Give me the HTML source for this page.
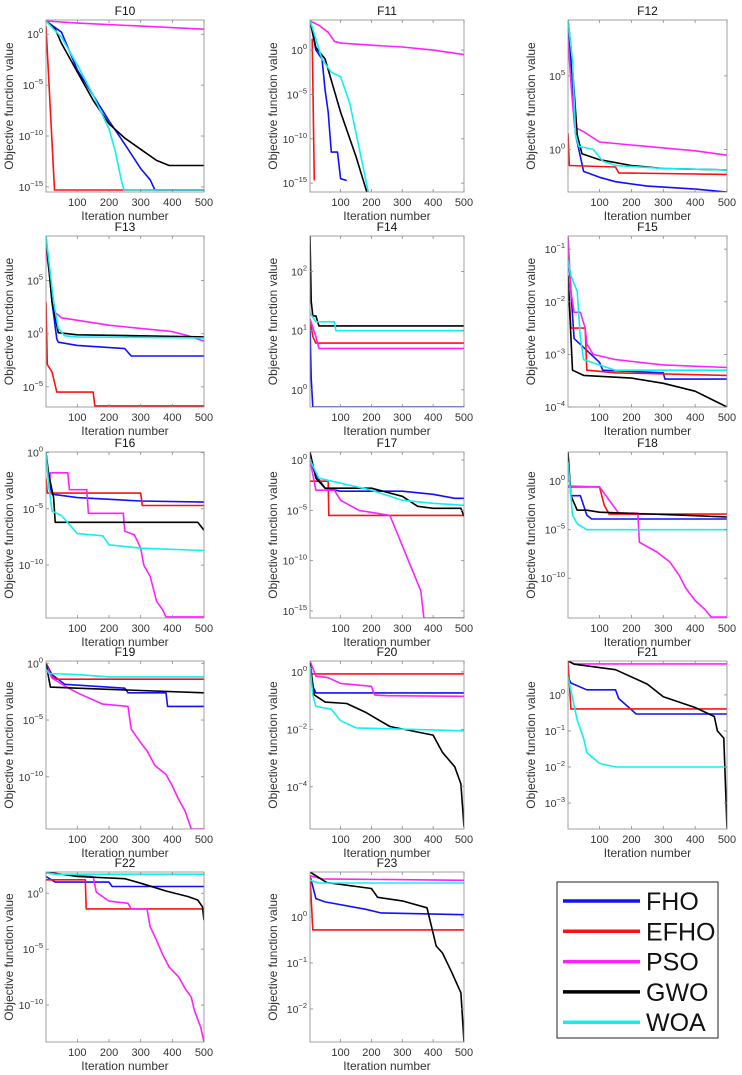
<!DOCTYPE html>
<html><head><meta charset="utf-8"><style>
html,body{margin:0;padding:0;background:#fff;}
svg{display:block;font-family:"Liberation Sans",Arial,sans-serif;}
</style></head><body>
<svg id="fig" width="742" height="1075" viewBox="0 0 742 1075"></svg>
<script>
// x values = iteration, y values = log10(objective value)
const xTicks=[100,200,300,400,500];
const F10_FHO=[[1,1.3],[50,0.2],[100,-3.5],[150,-6],[200,-8.5],[250,-10.8],[300,-13.2],[330,-14.3],[345,-15.3],[500,-15.3]];
const F10_EFHO=[[1,0.8],[28,-15.3],[500,-15.3]];
const F10_PSO=[[1,1.3],[100,1.1],[300,0.8],[500,0.5]];
const F10_GWO=[[1,1.3],[30,0.5],[50,-0.9],[100,-3.7],[150,-6.5],[200,-8.8],[250,-10.2],[300,-11.3],[350,-12.4],[390,-12.9],[500,-12.9]];
const F10_WOA=[[1,1.3],[50,-0.3],[100,-3],[150,-6],[200,-9.3],[220,-11.5],[240,-14.5],[248,-15.3],[500,-15.3]];
const F11_FHO=[[1,3.4],[20,0],[40,-1],[50,-4.5],[60,-7],[70,-11.5],[90,-11.5],[100,-14.5],[120,-14.7]];
const F11_EFHO=[[8,1.3],[15,-14.7]];
const F11_PSO=[[1,3.3],[30,2.8],[60,2],[80,1],[100,0.8],[200,0.56],[300,0.35],[400,0],[500,-0.5]];
const F11_GWO=[[1,3.4],[20,0.3],[50,-1],[100,-7],[150,-12],[185,-16]];
const F11_WOA=[[1,3.4],[40,-1],[70,-2.5],[100,-3],[130,-6],[160,-11],[190,-16]];
const F12_FHO=[[1,8.8],[20,3],[25,1],[35,0],[50,-1.5],[100,-1.9],[150,-2.2],[250,-2.5],[400,-2.7],[500,-2.9]];
const F12_EFHO=[[1,1.1],[5,-1.1],[150,-1.2],[160,-1.6],[500,-1.7]];
const F12_PSO=[[1,7.5],[12,4],[22,1.5],[50,1.2],[100,0.5],[200,0.3],[300,0.1],[400,-0.1],[500,-0.4]];
const F12_GWO=[[1,8.8],[10,7],[20,4],[30,1],[45,-0.3],[100,-0.7],[200,-1.1],[300,-1.3],[500,-1.4]];
const F12_WOA=[[1,8.8],[15,6],[25,1],[35,0.2],[80,0],[110,-0.8],[150,-1.1],[300,-1.3],[500,-1.4]];
const F13_FHO=[[1,9.2],[20,3],[35,-0.5],[40,-0.8],[100,-1.1],[250,-1.4],[270,-2.1],[500,-2.1]];
const F13_EFHO=[[1,3],[5,-2.9],[20,-3.6],[35,-5.5],[150,-5.5],[155,-6.8],[500,-6.8]];
const F13_PSO=[[1,8],[10,6],[30,2],[50,1.5],[200,0.8],[300,0.5],[400,0.2],[450,-0.2],[500,-0.7]];
const F13_GWO=[[1,9],[20,3],[40,0.1],[100,-0.1],[300,-0.2],[500,-0.3]];
const F13_WOA=[[1,9.2],[25,3],[40,0.5],[60,-0.2],[100,-0.3],[500,-0.4]];
const F14_FHO=[[1,1.1],[5,0.2],[10,-0.29],[500,-0.29]];
const F14_EFHO=[[1,1.2],[10,0.9],[20,0.79],[500,0.79]];
const F14_PSO=[[1,1.2],[20,0.9],[30,0.7],[500,0.7]];
const F14_GWO=[[1,2.6],[5,1.5],[10,1.25],[20,1.25],[30,1.08],[500,1.08]];
const F14_WOA=[[1,1.3],[20,1.15],[80,1.15],[85,1.0],[500,1.0]];
const F15_FHO=[[1,-1],[10,-1.8],[20,-2.7],[100,-3.15],[110,-3.3],[300,-3.35],[305,-3.47],[500,-3.47]];
const F15_EFHO=[[1,-1.5],[10,-2.5],[55,-2.5],[60,-3.3],[150,-3.35],[500,-3.4]];
const F15_PSO=[[1,-0.75],[10,-1.8],[20,-2.2],[40,-2.2],[55,-2.5],[60,-2.8],[80,-3],[150,-3.1],[300,-3.2],[500,-3.25]];
const F15_GWO=[[1,-1.5],[15,-3.3],[50,-3.4],[200,-3.45],[300,-3.55],[400,-3.7],[450,-3.85],[500,-4]];
const F15_WOA=[[1,-1.2],[10,-1.5],[30,-1.8],[40,-2.7],[50,-3.1],[150,-3.3],[500,-3.3]];
const F16_FHO=[[1,0],[10,-2.5],[20,-3.7],[100,-4],[300,-4.3],[500,-4.4]];
const F16_EFHO=[[1,-2.3],[5,-3.6],[300,-3.6],[305,-4.7],[500,-4.7]];
const F16_PSO=[[1,-0.3],[12,-3],[15,-1.8],[70,-1.8],[75,-3.3],[130,-3.3],[135,-5.4],[245,-5.4],[250,-7],[280,-7.3],[300,-8.5],[310,-10],[330,-11],[350,-13.2],[370,-14],[380,-14.6],[500,-14.6]];
const F16_GWO=[[1,0],[10,-2],[25,-4],[30,-6.2],[480,-6.2],[500,-6.9]];
const F16_WOA=[[1,0],[10,-3],[20,-5.2],[50,-5.6],[100,-7.2],[180,-7.4],[200,-8.2],[300,-8.5],[500,-8.7]];
const F17_FHO=[[1,0],[20,-1.5],[50,-2.8],[100,-3.1],[300,-3.1],[400,-3.4],[470,-3.8],[500,-3.8]];
const F17_EFHO=[[1,-2.1],[60,-2.1],[62,-5.5],[500,-5.5]];
const F17_PSO=[[1,0],[20,-3],[80,-3],[100,-4],[160,-5],[260,-5.5],[280,-7],[300,-8.5],[320,-10],[340,-11.5],[360,-13],[370,-15.7],[500,-15.7]];
const F17_GWO=[[1,0.8],[20,-1.8],[50,-2.8],[200,-2.8],[300,-3.6],[350,-4.6],[400,-4.8],[490,-4.8],[500,-5.6]];
const F17_WOA=[[1,0],[30,-1.8],[100,-2.3],[200,-3],[300,-4],[400,-4.3],[500,-4.5]];
const F18_FHO=[[1,2],[10,-1.5],[40,-1.5],[60,-3.5],[75,-3.9],[500,-3.9]];
const F18_EFHO=[[1,-0.6],[100,-0.6],[115,-2.5],[130,-3.4],[500,-3.4]];
const F18_PSO=[[1,-0.5],[100,-0.6],[160,-3.3],[220,-3.3],[225,-6.3],[280,-7.3],[320,-8.3],[350,-9.7],[370,-11],[400,-12.3],[430,-13.2],[450,-14],[500,-14]];
const F18_GWO=[[1,3],[10,-1.5],[30,-3],[60,-3],[100,-3.2],[350,-3.5],[500,-3.7]];
const F18_WOA=[[1,2],[15,-3.5],[30,-4.4],[60,-5],[500,-5]];
const F19_FHO=[[1,0],[20,-1],[60,-1.85],[250,-2.2],[260,-2.6],[380,-2.6],[385,-3.8],[500,-3.8]];
const F19_EFHO=[[1,0],[15,-1],[30,-1.4],[60,-1.4],[500,-1.4]];
const F19_PSO=[[1,-0.2],[20,-1.3],[60,-2],[100,-2.6],[180,-3.6],[260,-3.8],[270,-5.8],[300,-7],[320,-7.7],[345,-9],[380,-9.8],[400,-10.8],[420,-12],[440,-13],[460,-14.6],[500,-14.6]];
const F19_GWO=[[1,0],[15,-2.1],[100,-2.2],[300,-2.4],[500,-2.6]];
const F19_WOA=[[1,-0.5],[10,-0.9],[100,-1],[200,-1.2],[500,-1.2]];
const F20_FHO=[[1,0],[10,-0.5],[20,-0.73],[500,-0.73]];
const F20_EFHO=[[1,0.38],[5,-0.07],[500,-0.07]];
const F20_PSO=[[1,0.38],[20,-0.15],[60,-0.2],[100,-0.4],[200,-0.5],[210,-0.8],[250,-0.83],[500,-0.85]];
const F20_GWO=[[1,0.3],[15,-0.8],[50,-1.05],[120,-1.1],[180,-1.4],[260,-1.9],[400,-2.2],[430,-2.8],[470,-3.3],[490,-3.9],[500,-5.4]];
const F20_WOA=[[1,0.2],[10,-0.8],[20,-1.2],[70,-1.3],[100,-1.7],[150,-1.95],[500,-2.05]];
const F21_FHO=[[1,0.5],[10,0.33],[60,0.14],[150,0.14],[160,-0.1],[215,-0.53],[500,-0.53]];
const F21_EFHO=[[1,0.94],[10,-0.39],[500,-0.39]];
const F21_PSO=[[1,0.94],[20,0.86],[500,0.86]];
const F21_GWO=[[1,0.94],[20,0.85],[150,0.7],[250,0.3],[300,-0.05],[400,-0.35],[460,-0.6],[470,-1],[490,-1.2],[500,-3.7]];
const F21_WOA=[[1,0.5],[30,-0.7],[50,-1.2],[60,-1.6],[100,-1.9],[150,-2],[500,-2]];
const F22_FHO=[[1,1.5],[30,1.0],[200,1.0],[210,0.6],[500,0.6]];
const F22_EFHO=[[1,1.2],[125,1.2],[128,-1.4],[500,-1.4]];
const F22_PSO=[[1,1.8],[150,1.5],[160,0.1],[200,-0.7],[260,-0.9],[270,-1.4],[320,-1.4],[330,-3],[350,-4.2],[370,-5.5],[390,-6.6],[420,-7.5],[440,-8.5],[460,-9.3],[470,-10.5],[490,-12],[500,-13.3]];
const F22_GWO=[[1,1.9],[100,1.5],[250,1.3],[300,0.9],[380,0.2],[450,-0.3],[480,-0.6],[495,-1.2],[500,-2.4]];
const F22_WOA=[[1,1.8],[30,1.7],[500,1.7]];
const F23_FHO=[[1,0.9],[20,0.4],[50,0.33],[180,0.17],[230,0.09],[500,0.05]];
const F23_EFHO=[[1,0.9],[10,-0.28],[500,-0.28]];
const F23_PSO=[[1,0.9],[40,0.83],[500,0.8]];
const F23_GWO=[[1,0.98],[55,0.75],[200,0.62],[220,0.43],[300,0.35],[380,0.2],[410,-0.63],[430,-0.78],[460,-1.2],[490,-1.65],[500,-2.72]];
const F23_WOA=[[1,0.8],[30,0.74],[500,0.74]];
const algNames=["FHO","EFHO","PSO","GWO","WOA"];
const algColors=["#1010ff","#ff1010","#ff20ff","#000000","#10f0f0"];

const cols=[[46,204],[310,464],[568,727]];
const rows=[[20,192],[236,407],[452,618],[661,829],[872,1042]];
const panels=[
 {n:"F10",c:0,r:0,lo:-15.5,hi:1.4,t:[0,-5,-10,-15],s:[F10_FHO,F10_EFHO,F10_PSO,F10_GWO,F10_WOA]},
 {n:"F11",c:1,r:0,lo:-16,hi:3.4,t:[0,-5,-10,-15],s:[F11_FHO,F11_EFHO,F11_PSO,F11_GWO,F11_WOA]},
 {n:"F12",c:2,r:0,lo:-2.9,hi:8.8,t:[5,0],s:[F12_FHO,F12_EFHO,F12_PSO,F12_GWO,F12_WOA]},
 {n:"F13",c:0,r:1,lo:-6.9,hi:9.2,t:[5,0,-5],s:[F13_FHO,F13_EFHO,F13_PSO,F13_GWO,F13_WOA]},
 {n:"F14",c:1,r:1,lo:-0.29,hi:2.6,t:[2,1,0],s:[F14_FHO,F14_EFHO,F14_PSO,F14_GWO,F14_WOA]},
 {n:"F15",c:2,r:1,lo:-4,hi:-0.75,t:[-1,-2,-3,-4],s:[F15_FHO,F15_EFHO,F15_PSO,F15_GWO,F15_WOA]},
 {n:"F16",c:0,r:2,lo:-14.7,hi:0.05,t:[0,-5,-10],s:[F16_FHO,F16_EFHO,F16_PSO,F16_GWO,F16_WOA]},
 {n:"F17",c:1,r:2,lo:-15.7,hi:0.8,t:[0,-5,-10,-15],s:[F17_FHO,F17_EFHO,F17_PSO,F17_GWO,F17_WOA]},
 {n:"F18",c:2,r:2,lo:-14.1,hi:3,t:[0,-5,-10],s:[F18_FHO,F18_EFHO,F18_PSO,F18_GWO,F18_WOA]},
 {n:"F19",c:0,r:3,lo:-14.6,hi:0.2,t:[0,-5,-10],s:[F19_FHO,F19_EFHO,F19_PSO,F19_GWO,F19_WOA]},
 {n:"F20",c:1,r:3,lo:-5.47,hi:0.38,t:[0,-2,-4],s:[F20_FHO,F20_EFHO,F20_PSO,F20_GWO,F20_WOA]},
 {n:"F21",c:2,r:3,lo:-3.72,hi:0.94,t:[0,-1,-2,-3],s:[F21_FHO,F21_EFHO,F21_PSO,F21_GWO,F21_WOA]},
 {n:"F22",c:0,r:4,lo:-13.3,hi:1.9,t:[0,-5,-10],s:[F22_FHO,F22_EFHO,F22_PSO,F22_GWO,F22_WOA]},
 {n:"F23",c:1,r:4,lo:-2.72,hi:0.98,t:[0,-1,-2],s:[F23_FHO,F23_EFHO,F23_PSO,F23_GWO,F23_WOA]}
];
const NS="http://www.w3.org/2000/svg";
const svg=document.getElementById("fig");
function mk(tag,attrs,parent){const e=document.createElementNS(NS,tag);for(const k in attrs)e.setAttribute(k,attrs[k]);(parent||svg).appendChild(e);return e;}
panels.forEach(p=>{
 const [x0,x1]=cols[p.c],[y0,y1]=rows[p.r];
 const g=mk("g",{});
 
 
 const X=v=>x0+(v-1)/499*(x1-x0);
 const Y=v=>y1-(v-p.lo)/(p.hi-p.lo)*(y1-y0);
 const clipId="clip"+p.n;
 const cp=mk("clipPath",{id:clipId},g);mk("rect",{x:x0,y:y0,width:x1-x0,height:y1-y0},cp);
 p.s.forEach((ser,i)=>{
  const pl=mk("polyline",{points:ser.map(d=>X(d[0]).toFixed(1)+","+Y(d[1]).toFixed(1)).join(" "),fill:"none",stroke:algColors[i],"stroke-width":1.6,"stroke-linejoin":"round","clip-path":"url(#"+clipId+")"},g);
  
  
 });
 const box=mk("rect",{x:x0,y:y0,width:x1-x0,height:y1-y0,fill:"none",stroke:"#8a8a8a","stroke-width":0.8},g);
 
 
 xTicks.forEach(v=>{
  const x=X(v);
  mk("line",{x1:x,x2:x,y1:y1,y2:y1-3,stroke:"#8a8a8a","stroke-width":0.8},g);
  mk("line",{x1:x,x2:x,y1:y0,y2:y0+3,stroke:"#8a8a8a","stroke-width":0.8},g);
  const t=mk("text",{x:x,y:y1+14,"font-size":11,"text-anchor":"middle",fill:"#333"},g);t.textContent=v;
  
  
 });
 p.t.forEach(v=>{
  const y=Y(v);
  mk("line",{x1:x0,x2:x0+3,y1:y,y2:y,stroke:"#8a8a8a","stroke-width":0.8},g);
  mk("line",{x1:x1,x2:x1-3,y1:y,y2:y,stroke:"#8a8a8a","stroke-width":0.8},g);
  const t=mk("text",{x:x0-3,y:y+4,"font-size":10.5,"text-anchor":"end",fill:"#333"},g);
  const a=mk("tspan",{},t);a.textContent="10";
  const b=mk("tspan",{"font-size":7.5,dy:-5},t);b.textContent=(v<0?"\u2212"+(-v):""+v);
  
  
 });
 const ti=mk("text",{x:(x0+x1)/2,y:y0-5,"font-size":12,"text-anchor":"middle",fill:"#111"},g);ti.textContent=p.n;
 
 
 const xl=mk("text",{x:(x0+x1)/2,y:y1+28,"font-size":12,"text-anchor":"middle",fill:"#333"},g);xl.textContent="Iteration number";
 
 
 const lx=x0-33,ly=(y0+y1)/2;
 const yl=mk("text",{x:lx,y:ly,"font-size":12,"text-anchor":"middle",fill:"#333",transform:"rotate(-90 "+lx+" "+ly+")"},g);yl.textContent="Objective function value";
 
 
});
// legend
const lg=mk("g",{});


mk("rect",{x:557,y:882,width:161,height:156,fill:"#fff",stroke:"#222","stroke-width":1},lg);
algNames.forEach((n,i)=>{
 const y=901+i*30.3;
 const e=mk("g",{},lg);
 
 
 mk("line",{x1:563,x2:640,y1:y,y2:y,stroke:algColors[i],"stroke-width":3.5},e);
 const t=mk("text",{x:646,y:y+9,"font-size":25,fill:"#111"},e);t.textContent=n;
});
</script>
</body></html>
